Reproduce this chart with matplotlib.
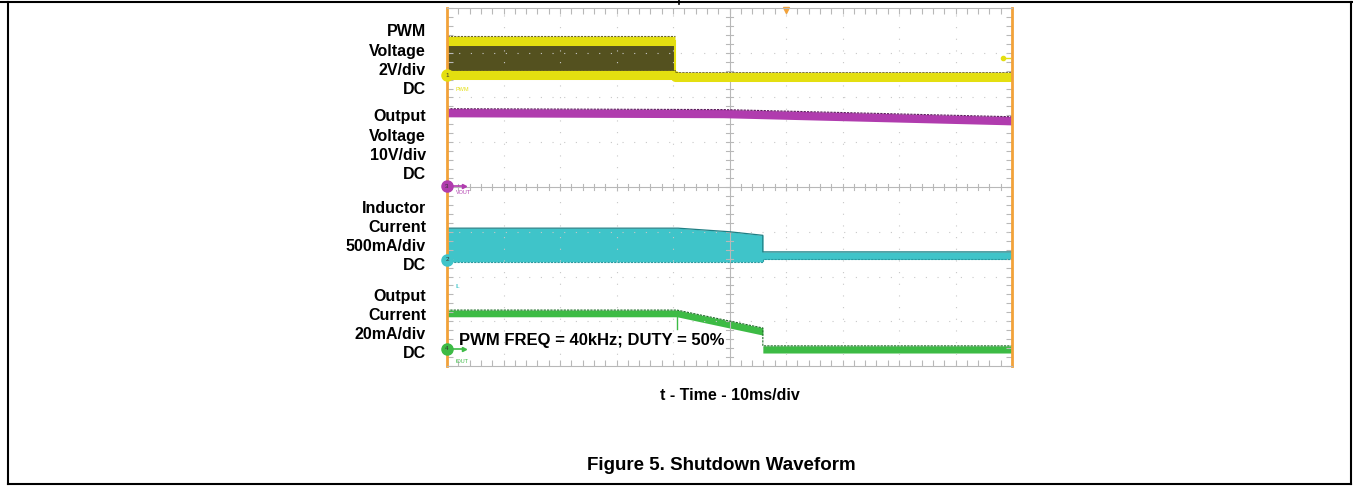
#Shutdown waveform - scope capture redrawn with matplotlib
#4 channels: PWM voltage, output voltage, inductor current, output current

import numpy as np
import matplotlib.pyplot as plt
from matplotlib.lines import Line2D

plt.rcParams['font.family'] = ['Liberation Sans', 'DejaVu Sans']

#scope trace data, x in divisions (0-10), y in divisions (0-8)
pwm_t = [0, 4.04, 4.04, 10]
pwm_hi = [7.26, 7.26, 6.46, 6.46]
pwm_lo = [6.50, 6.50, 6.46, 6.46]

vout_t = [0, 4.9, 10]
vout_y = [5.65, 5.63, 5.47]

il_t = [0, 4.09, 5.0, 5.59, 5.59, 10]
il_top = [3.08, 3.08, 3.0, 2.92, 2.55, 2.55]
il_bot = [2.33, 2.33, 2.33, 2.33, 2.38, 2.38]

iout_t = [0, 4.07, 5.59, 5.59, 10]
iout_top = [1.25, 1.25, 0.85, 0.45, 0.45]
iout_bot = [1.10, 1.10, 0.69, 0.29, 0.29]

#labels on the left of the screen
channel_labels = [["PWM", "Voltage", "2V/div", "DC"],
                  ["Output", "Voltage", "10V/div", "DC"],
                  ["Inductor", "Current", "500mA/div", "DC"],
                  ["Output", "Current", "20mA/div", "DC"]]
label_top_px = [32, 117, 208, 296]

#channel markers on the left edge: number, level, colour, tag
marker_nums = ["1", "3", "2", "4"]
marker_levels = [6.50, 4.02, 2.37, 0.38]
marker_tags = ["PWM", "VOUT", "IL", "IOUT"]
marker_tag_levels = [6.17, 3.87, 1.77, 0.09]

yellow = '#e4df10'
olive = '#54511f'
magenta = '#b03cae'
cyan = '#3fc4c9'
green = '#3dbb45'
orange = '#f2a23a'
colors = [yellow, magenta, cyan, green]

fig = plt.figure(figsize=(13.53, 4.86), dpi=100)
W, H = 1353, 486
ax = fig.add_axes([447 / W, 1 - 366 / H, 565 / W, 358 / H])
ax.set_xlim(0, 10)
ax.set_ylim(0, 8)

#grid dotted every division
for gx in range(1, 10):
    if gx != 5:
        ax.axvline(gx, color='#c8c8c8', lw=0.8, linestyle=(0, (1, 9.5)))
for gy in range(1, 8):
    if gy != 4:
        ax.axhline(gy, color='#c8c8c8', lw=0.8, linestyle=(0, (1, 9.5)))
#centre cross with small ticks
ax.axvline(5, color='#b8b8b8', lw=0.8)
ax.axhline(4, color='#b8b8b8', lw=0.8)
for tx in np.arange(0, 10.01, 0.2):
    ax.plot([tx, tx], [3.94, 4.06], color='#b8b8b8', lw=0.8)
for ty in np.arange(0, 8.01, 0.2):
    ax.plot([4.93, 5.07], [ty, ty], color='#b8b8b8', lw=0.8)

#ticks on the border
ax.set_xticks(np.arange(0, 10.01, 0.2))
ax.set_yticks(np.arange(0, 8.01, 0.2))
ax.tick_params(direction='in', length=4, width=0.8, color='#b8b8b8',
               top=True, right=True, labelbottom=False, labelleft=False)
for s in ['top', 'bottom']:
    ax.spines[s].set_color('#b8b8b8')
for s in ['left', 'right']:
    ax.spines[s].set_color(orange)
    ax.spines[s].set_linewidth(2)

#PWM trace
ax.fill_between(pwm_t, pwm_lo, pwm_hi, color=olive, lw=0)
ax.plot(pwm_t[:2], pwm_hi[:2], color=yellow, lw=6.5, solid_capstyle='butt')
ax.plot(pwm_t[:2], [v + 0.11 for v in pwm_hi[:2]], color='#6b6520', lw=0.8, ls=(0, (2, 1)))
ax.plot([pwm_t[1], pwm_t[1]], [pwm_lo[1], pwm_hi[1]], color=yellow, lw=1.5)
ax.plot(pwm_t, pwm_lo, color=yellow, lw=6.5, solid_capstyle='butt')
ax.plot(pwm_t, [v + 0.11 for v in pwm_lo], color='#6b6520', lw=0.6, ls=(0, (3, 1)))

#output voltage
ax.plot(vout_t, vout_y, color=magenta, lw=6, solid_capstyle='butt')
ax.plot(vout_t, [v + 0.1 for v in vout_y], color='#5c1d5c', lw=0.8, ls=(0, (2, 1)))

#inductor current
ax.fill_between(il_t, il_bot, il_top, color=cyan, lw=0)
ax.plot(il_t, il_top, color='#1f7f84', lw=0.9)
ax.plot(il_t, il_bot, color='#2a9aa0', lw=0.8, ls=(0, (2, 1)))

#output current
ax.fill_between(iout_t, iout_bot, iout_top, color=green, lw=0)
ax.plot(iout_t, iout_top, color='#1f6e28', lw=0.8, ls=(0, (2, 1)))
ax.plot([iout_t[1], iout_t[1]], [iout_bot[1], 0.82], color=green, lw=1)

#channel markers
for num, lev, col, tag, tlev in zip(marker_nums, marker_levels, colors,
                                    marker_tags, marker_tag_levels):
    ax.plot(0, lev, 'o', ms=8, color=col, clip_on=False, zorder=5)
    ax.text(0, lev, num, fontsize=4.5, color='#333333', ha='center', va='center',
            clip_on=False, zorder=6)
    if num in ("3", "4"):
        ax.plot([0.1, 0.3], [lev, lev], color=col, lw=1.2, clip_on=False)
        ax.plot(0.3, lev, '>', ms=3, color=col, clip_on=False)
    ax.text(0.15, tlev, tag, fontsize=4, color=col, ha='left', va='center')

#trigger markers
ax.plot(6.0, 7.95, 'v', ms=5, color=orange, clip_on=False)
ax.plot(9.84, 6.88, 'o', ms=3, color=yellow)
ax.plot([9.9, 9.97], [6.88, 6.88], color=yellow, lw=1)

ax.text(0.21, 0.58, "PWM FREQ = 40kHz; DUTY = 50%", fontsize=12,
        fontweight='bold', ha='left', va='center')

#channel labels
for lines, top in zip(channel_labels, label_top_px):
    for i, line in enumerate(lines):
        fig.text(426 / W, 1 - (top + i * 19.3) / H, line, fontsize=11.5,
                 fontweight='bold', ha='right', va='center')

fig.text(730 / W, 1 - 395 / H, "t - Time - 10ms/div", fontsize=11.5,
         fontweight='bold', ha='center', va='center')
fig.text(721 / W, 1 - 465 / H, "Figure 5. Shutdown Waveform", fontsize=13.5,
         fontweight='bold', ha='center', va='center')

#outer frame of the figure box
fig.add_artist(Line2D([0, 1], [1 - 2 / H, 1 - 2 / H], color='black', lw=1.5))
fig.add_artist(Line2D([8 / W, 8 / W], [1 - 2 / H, 1 - 484 / H], color='black', lw=1.5))
fig.add_artist(Line2D([1351 / W, 1351 / W], [1 - 2 / H, 1 - 484 / H], color='black', lw=1.5))
fig.add_artist(Line2D([8 / W, 1351 / W], [1 - 484 / H, 1 - 484 / H], color='black', lw=1.5))
fig.add_artist(Line2D([679 / W, 679 / W], [1, 1 - 4 / H], color='black', lw=1.2))

fig.savefig('out.png', dpi=100)
